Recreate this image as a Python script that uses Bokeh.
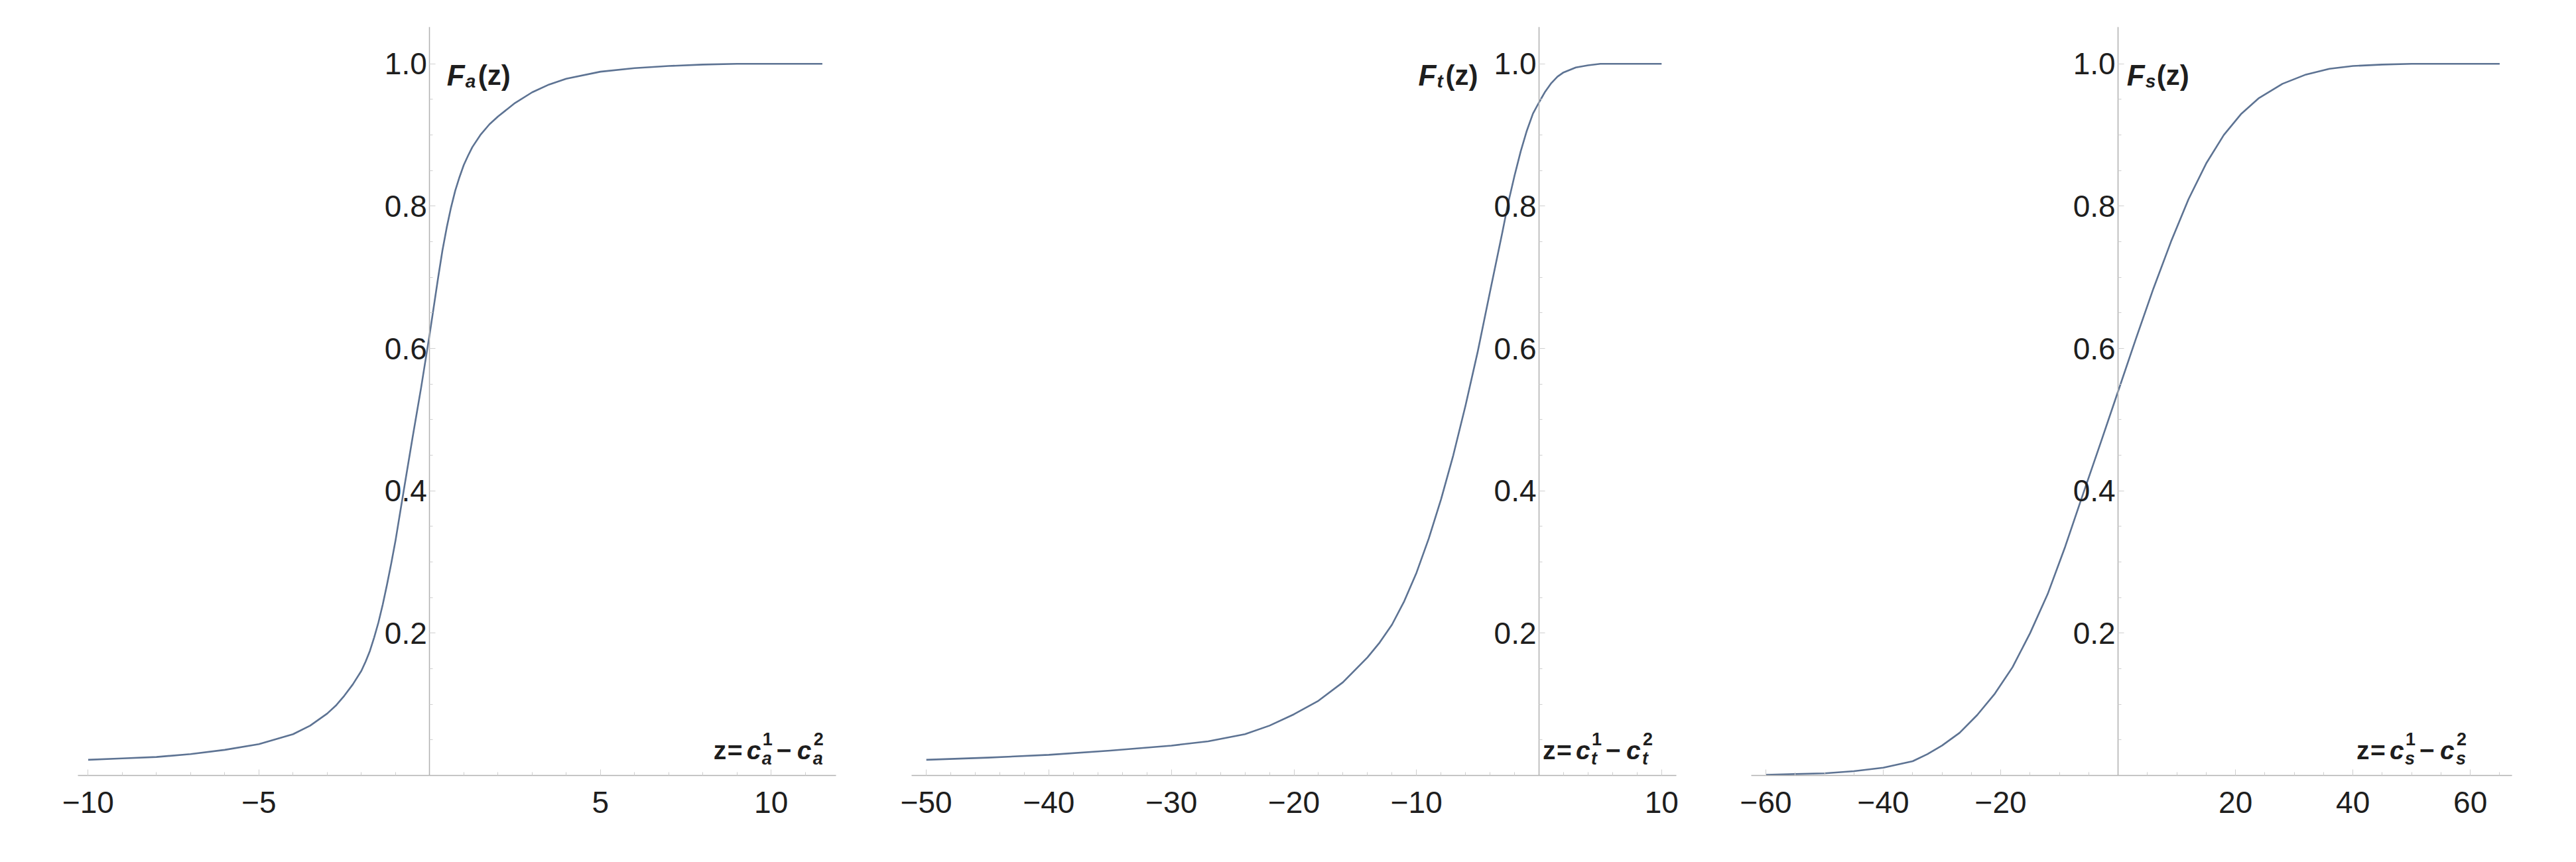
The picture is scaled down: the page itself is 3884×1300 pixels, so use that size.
from bokeh.plotting import figure
from bokeh.layouts import row
from bokeh.models import FixedTicker, Range1d, PrintfTickFormatter
from bokeh.core.properties import value
from bokeh.embed import file_html
from bokeh.resources import INLINE

# ---- data ----
za = [-10, -9, -8, -7, -6, -5, -4, -3.5, -3, -2.75, -2.5, -2.25, -2, -1.875, -1.75, -1.625, -1.5,
      -1.375, -1.25, -1.125, -1, -0.75, -0.5, -0.25, 0, 0.25, 0.375, 0.5, 0.625, 0.75, 0.875, 1,
      1.125, 1.25, 1.5, 1.75, 2, 2.5, 3, 3.5, 4, 5, 6, 7, 8, 9, 10, 11.5]
Fa = [0.022, 0.024, 0.026, 0.030, 0.036, 0.044, 0.058, 0.070, 0.087, 0.098, 0.112, 0.128, 0.147,
      0.160, 0.175, 0.194, 0.215, 0.240, 0.268, 0.298, 0.330, 0.403, 0.475, 0.545, 0.620, 0.700,
      0.738, 0.770, 0.798, 0.822, 0.841, 0.858, 0.871, 0.883, 0.901, 0.915, 0.926, 0.945, 0.960,
      0.971, 0.979, 0.989, 0.994, 0.997, 0.999, 1.0, 1.0, 1.0]

zt = [-50, -45, -40, -35, -30, -27, -24, -22, -20, -18, -16, -14, -13, -12, -11, -10, -9, -8, -7,
      -6, -5, -4, -3, -2.5, -2, -1.5, -1, -0.5, 0, 0.5, 1, 1.5, 2, 3, 4, 5, 7, 10]
Ft = [0.022, 0.025, 0.029, 0.035, 0.042, 0.048, 0.058, 0.070, 0.086, 0.105, 0.131, 0.166, 0.187,
      0.212, 0.245, 0.285, 0.333, 0.388, 0.450, 0.520, 0.596, 0.680, 0.763, 0.806, 0.843, 0.877,
      0.906, 0.930, 0.946, 0.961, 0.973, 0.982, 0.988, 0.995, 0.998, 1.0, 1.0, 1.0]

zs = [-60, -55, -50, -45, -40, -35, -32.5, -30, -27, -24, -21, -18, -15, -12, -9, -6, -3, 0, 3, 6,
      9, 12, 15, 18, 21, 24, 28, 32, 36, 40, 45, 50, 55, 60, 65]
Fs = [0.001, 0.002, 0.003, 0.006, 0.011, 0.020, 0.030, 0.042, 0.060, 0.085, 0.115, 0.152, 0.200,
      0.255, 0.322, 0.395, 0.467, 0.540, 0.613, 0.684, 0.750, 0.810, 0.860, 0.900, 0.930, 0.952,
      0.972, 0.985, 0.993, 0.997, 0.999, 1.0, 1.0, 1.0, 1.0]

xticks_a = [-10, -5, 5, 10]
xticks_t = [-50, -40, -30, -20, -10, 10]
xticks_s = [-60, -40, -20, 20, 40, 60]
yticks = [0.2, 0.4, 0.6, 0.8, 1.0]
subs = ["a", "t", "s"]

FONT = "Liberation Sans"
CURVE = "#5d7393"
AXIS = "#b0b0b0"
TICK = "#cfcfcf"
TEXT = "#1e1e1e"
H = 1280


def add_text(p, x, y, s, dx, dy, size, style):
    p.text(x=[x], y=[y], text=[s], x_offset=dx, y_offset=dy, text_font=value(FONT),
           text_font_size=f"{size}px", text_font_style=style, text_color=TEXT,
           text_align="left", text_baseline="alphabetic")


def panel(z, F, xr, width, bl, br, xticks, xminor, sub, zlab_x, flab_dx, paren_dx):
    p = figure(width=width, height=H, x_range=Range1d(*xr), y_range=Range1d(0, 1.052),
               output_backend="svg", toolbar_location=None,
               min_border_left=bl, min_border_right=br, min_border_top=40, min_border_bottom=111)
    p.grid.visible = False
    p.outline_line_color = None
    p.background_fill_color = "white"
    p.border_fill_color = "white"

    p.line(z, F, line_color=CURVE, line_width=2.6, line_join="round")

    for ax in (p.xaxis[0], p.yaxis[0]):
        ax.axis_line_color = AXIS
        ax.axis_line_width = 1.5
        ax.major_tick_line_color = TICK
        ax.minor_tick_line_color = TICK
        ax.major_tick_in = 9
        ax.major_tick_out = 0
        ax.minor_tick_in = 5
        ax.minor_tick_out = 0
        ax.major_label_text_font = FONT
        ax.major_label_text_font_size = "46px"
        ax.major_label_text_color = TEXT

    p.yaxis[0].fixed_location = 0
    p.xaxis[0].ticker = FixedTicker(ticks=xticks, minor_ticks=xminor)
    p.xaxis[0].major_label_overrides = {t: ("\u2212" + str(-t)) if t < 0 else str(t) for t in xticks}
    p.xaxis[0].major_label_standoff = 24
    p.yaxis[0].ticker = FixedTicker(ticks=yticks,
                                    minor_ticks=[i / 20 for i in range(1, 21)])
    p.yaxis[0].formatter = PrintfTickFormatter(format="%.1f")
    p.yaxis[0].major_label_standoff = 4

    # axis label F_x(z) next to the 1.0 tick
    add_text(p, 0, 1.0, "F", flab_dx, 17, 44, "bold italic")
    add_text(p, 0, 1.0, sub, flab_dx + 28, 26, 28, "bold italic")
    add_text(p, 0, 1.0, "(z)", flab_dx + paren_dx, 17, 42, "bold")

    # horizontal label z = c^1_x - c^2_x
    base = -38
    add_text(p, zlab_x, 0, "z", 0, base, 39, "bold")
    add_text(p, zlab_x, 0, "=", 21, base, 39, "bold")
    add_text(p, zlab_x, 0, "c", 50, base, 39, "bold italic")
    add_text(p, zlab_x, 0, sub, 73, base + 12, 27, "bold italic")
    add_text(p, zlab_x, 0, "1", 74, base - 17, 27, "bold")
    add_text(p, zlab_x, 0, "\u2212", 95, base, 39, "bold")
    add_text(p, zlab_x, 0, "c", 126, base, 39, "bold italic")
    add_text(p, zlab_x, 0, sub, 150, base + 12, 27, "bold italic")
    add_text(p, zlab_x, 0, "2", 151, base - 17, 27, "bold")
    return p


p1 = panel(za, Fa, (-10.3, 11.9), 1312, 117, 52, xticks_a, list(range(-10, 12)), subs[0], 8.31, 26, 47)
p2 = panel(zt, Ft, (-51.2, 11.2), 1270, 62, 55, xticks_t, list(range(-50, 12, 2)), subs[1], 0.3, -182, 41)
p3 = panel(zs, Fs, (-62.5, 67.1), 1276, 58, 71, xticks_s, list(range(-60, 66, 5)), subs[2], 40.6, 13, 45)

layout = row(p1, p2, p3)
open("out.html", "w").write(file_html(layout, INLINE))
